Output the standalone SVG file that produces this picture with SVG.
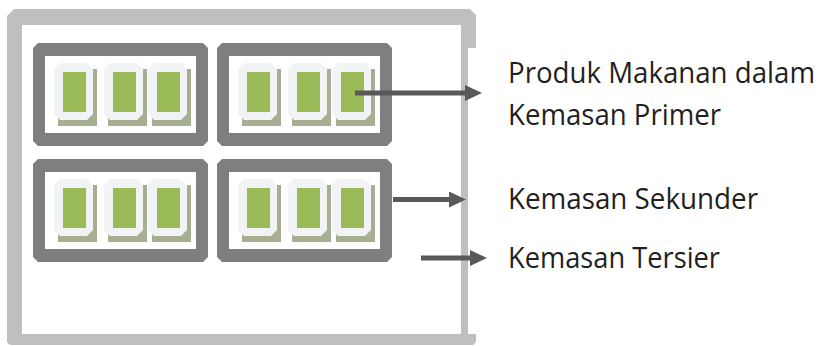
<svg xmlns="http://www.w3.org/2000/svg" xmlns:xlink="http://www.w3.org/1999/xlink" width="826" height="346" viewBox="0 0 826 346">
  <style>
    .tertiary { fill: #bfbfbf; fill-rule: evenodd; }
    .box { fill: #7f7f7f; }
    .boxin { fill: #ffffff; }
    .shadow { fill: #a6af91; }
    .frame { fill: #f2f3f5; }
    .green { fill: #9bbb59; }
    .arrow { stroke: #595959; stroke-width: 5; fill: none; }
    .label { font-family: "Open Sans", "Liberation Sans", sans-serif; font-size: 28.5px; fill: #231f20; }
  </style>
  <defs>
    <marker id="head" markerUnits="userSpaceOnUse" markerWidth="17" markerHeight="16" refX="0" refY="8" orient="auto" viewBox="0 0 17 16">
      <path d="M0,0 L17,8 L0,16 Z" fill="#595959"/>
    </marker>
    <g id="pkg">
      <polygon class="shadow" points="10,6 43,6 43,63 4,63 4,12"/>
      <polygon class="frame" points="6,0 33,0 39,6 39,51 33,57 6,57 0,51 0,6"/>
      <rect class="green" x="9" y="9" width="23" height="40"/>
    </g>
    <g id="secbox">
      <polygon class="box" points="5,0 170,0 175,5 175,98 170,103 5,103 0,98 0,5"/>
      <rect class="boxin" x="12" y="13" width="151" height="77"/>
      <use xlink:href="#pkg" x="21" y="20"/>
      <use xlink:href="#pkg" x="71" y="20"/>
      <use xlink:href="#pkg" x="115" y="20"/>
    </g>
  </defs>

  <g id="tertiary-pack">
    <path class="tertiary" d="M14,9 L470,9 L476,15 L476,48 L468,48 L468,334 L476,334 L476,342 L473,345 L10,345 L7,342 L7,16 Z M22,25 L22,334 L461,334 L461,25 Z"/>
  </g>

  <g id="secondary-1"><use xlink:href="#secbox" x="33" y="43"/></g>
  <g id="secondary-2"><use xlink:href="#secbox" x="217" y="43"/></g>
  <g id="secondary-3"><use xlink:href="#secbox" x="33" y="159"/></g>
  <g id="secondary-4"><use xlink:href="#secbox" x="217" y="159"/></g>

  <g id="connectors">
    <line class="arrow" x1="355" y1="93" x2="465" y2="93" marker-end="url(#head)"/>
    <line class="arrow" x1="393" y1="199.5" x2="449" y2="199.5" marker-end="url(#head)"/>
    <line class="arrow" x1="421" y1="258" x2="470" y2="258" marker-end="url(#head)"/>
  </g>

  <g id="label-primer">
    <text class="label" x="508" y="83" textLength="307" lengthAdjust="spacingAndGlyphs">Produk Makanan dalam</text>
    <text class="label" x="508" y="125" textLength="213" lengthAdjust="spacingAndGlyphs">Kemasan Primer</text>
  </g>
  <g id="label-sekunder">
    <text class="label" x="508" y="209" textLength="250" lengthAdjust="spacingAndGlyphs">Kemasan Sekunder</text>
  </g>
  <g id="label-tersier">
    <text class="label" x="508" y="268" textLength="212" lengthAdjust="spacingAndGlyphs">Kemasan Tersier</text>
  </g>
</svg>
